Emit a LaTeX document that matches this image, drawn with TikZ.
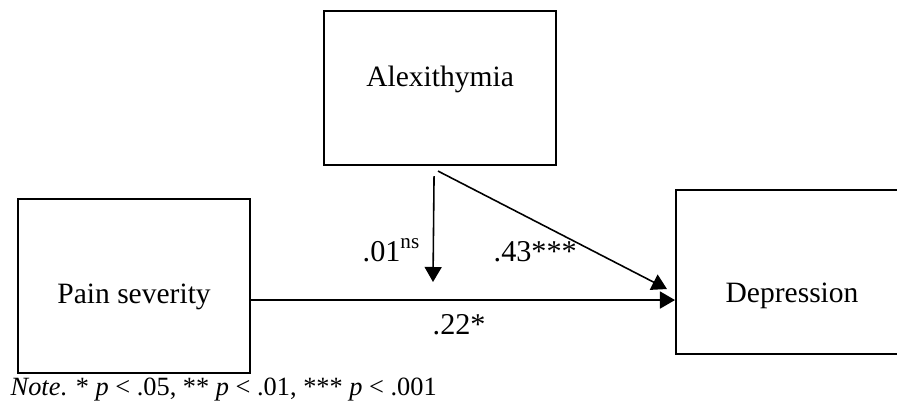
\documentclass[tikz,border=0pt]{standalone}
\usepackage{fontspec}
\setmainfont{Liberation Serif}
\usetikzlibrary{arrows.meta,positioning}
\tikzset{
  varbox/.style={draw=black, line width=0.6pt, inner sep=0pt, minimum width=23.2mm,
                 anchor=north west, font=\fontsize{8.4}{10}\selectfont},
  flow/.style={-{Triangle[length=1.5mm, width=1.7mm]}, line width=0.45pt, draw=black},
  coef/.style={font=\fontsize{8.6}{10}\selectfont, inner sep=0pt, anchor=base west},
  notetxt/.style={font=\fontsize{7.5}{9}\selectfont, inner sep=0pt, anchor=base west},
}

\begin{document}
\begin{tikzpicture}[x=1mm, y=-1mm]
  \useasboundingbox (0,0) rectangle (89.7,41.1);
  % the three variables
  \node[varbox, text height=7.5mm, text depth=7.9mm] (alex) at (32.3,1.0) {Alexithymia};
  \node[varbox, text height=10.4mm, text depth=7.0mm] (pain) at (1.7,19.8) {Pain severity};
  \node[varbox, text height=11.2mm, text depth=5.2mm] (dep) at (67.5,18.9) {Depression};
  % paths
  \coordinate (mtip) at (43.3,28.2);
  \draw[flow] ([yshift=-1.4mm]pain.east) -- ([yshift=-2.8mm]dep.west);
  \draw[flow] ([xshift=-0.6mm, yshift=-1.0mm]alex.south) -- (mtip);
  \draw[flow] ([xshift=-0.2mm, yshift=-0.5mm]alex.south) -- ([xshift=-0.8mm, yshift=-1.7mm]dep.west);
  % coefficients
  \node[coef] (b1) at (36.2,26.2) {.01\textsuperscript{ns}};
  \node[coef] (b2) at (49.3,26.2) {.43***};
  \node[coef] (b3) at (43.2,33.5) {.22*};
  \node[notetxt] (note) at (1.0,39.6) {\textit{Note}. * \textit{p} < .05, ** \textit{p} < .01, *** \textit{p} < .001};
\end{tikzpicture}
\end{document}
